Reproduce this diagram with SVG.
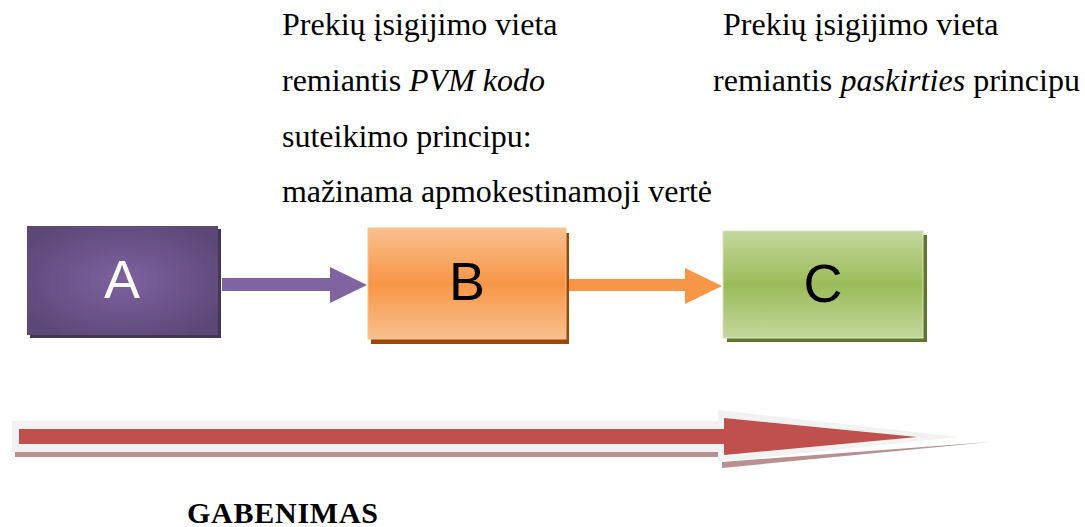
<svg xmlns="http://www.w3.org/2000/svg" width="1085" height="527" viewBox="0 0 1085 527">
<style>
.t{font-family:"Liberation Serif","Times New Roman",serif;font-size:32px;fill:#000}
.lbl{font-family:"Liberation Sans",Arial,sans-serif;font-size:54px;text-anchor:middle}
</style>
<defs>
<radialGradient id="gA" cx="0.5" cy="0.5" r="0.6">
<stop offset="0" stop-color="#7e62a0"/>
<stop offset="1" stop-color="#5c4877"/>
</radialGradient>
<linearGradient id="gB" x1="0" y1="0" x2="0" y2="1">
<stop offset="0" stop-color="#f9c08f"/>
<stop offset="0.5" stop-color="#f79646"/>
<stop offset="1" stop-color="#f9c08f"/>
</linearGradient>
<linearGradient id="gC" x1="0" y1="0" x2="0" y2="1">
<stop offset="0" stop-color="#c4d79d"/>
<stop offset="0.5" stop-color="#9bbb59"/>
<stop offset="1" stop-color="#c4d79d"/>
</linearGradient>
</defs>
<rect width="1085" height="527" fill="#fff"/>

<g id="text-left">
<text class="t" x="282" y="35">Prekių įsigijimo vieta</text>
<text class="t" x="282" y="91">remiantis <tspan font-style="italic">PVM kodo</tspan></text>
<text class="t" x="282" y="147">suteikimo principu:</text>
<text class="t" x="282" y="202" textLength="430">mažinama apmokestinamoji vertė</text>
</g>
<g id="text-right">
<text class="t" x="723" y="35">Prekių įsigijimo vieta</text>
<text class="t" x="713" y="91" textLength="367">remiantis <tspan font-style="italic">paskirties</tspan> principu</text>
</g>

<g id="connectors">
<polygon points="222,278 330,278 330,267 367,285 330,303 330,291 222,291" fill="#8064a2"/>
<polygon points="567,279 685,279 685,268 722,286 685,304 685,291 567,291" fill="#f79646"/>
</g>

<g id="node-A">
<rect x="30" y="229" width="191" height="109" fill="#443656"/>
<rect x="27" y="226" width="191" height="109" fill="url(#gA)"/>
<text class="lbl" x="122" y="298" fill="#fff">A</text>
</g>
<g id="node-B">
<rect x="371" y="233" width="198" height="111" fill="#984807"/>
<rect x="368" y="228" width="198" height="111" fill="url(#gB)" stroke="#fbbf8a" stroke-width="1"/>
<text class="lbl" x="467" y="300" fill="#000">B</text>
</g>
<g id="node-C">
<rect x="727" y="235" width="200" height="107" fill="#5f7530"/>
<rect x="723" y="231" width="200" height="107" fill="url(#gC)" stroke="#d7e4bd" stroke-width="1"/>
<text class="lbl" x="823" y="302" fill="#000">C</text>
</g>

<g id="transport-arrow">
<polygon points="15,437 722,437 722,462 990,442 722,468 722,457 15,457" fill="#b89090"/>
<polygon points="12,421 718,421 718,410 958,437 718,462 718,452 12,452" fill="#f2f2f2"/>
<polygon points="19,429 724,429 724,418 917,437 724,455 724,444 19,444" fill="#c0504d"/>
</g>

<g id="label-gabenimas">
<text x="187" y="523" font-family="'Liberation Serif','Times New Roman',serif" font-size="30" font-weight="bold" textLength="191">GABENIMAS</text>
</g>
</svg>
